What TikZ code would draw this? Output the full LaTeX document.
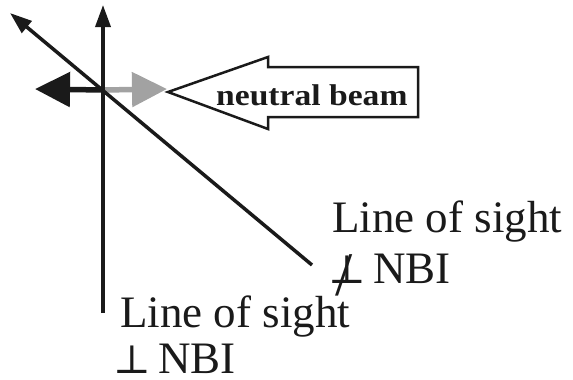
\documentclass[tikz,border=0pt]{standalone}
\usepackage{fontspec}
\setmainfont{Liberation Serif}
\newfontfamily\beamfont[FakeStretch=1.12]{Liberation Serif}
\newfontfamily\perpfont{DejaVu Serif}
\usetikzlibrary{arrows.meta, positioning}
\definecolor{mInk}{HTML}{1A1A1A}
\definecolor{mGrey}{HTML}{A2A2A2}
\newcommand{\perpsym}{{\perpfont\fontsize{40}{40}\selectfont ⊥}}
\newcommand{\notperpsym}{\makebox[0pt][l]{\hspace{7pt}\raisebox{-12pt}{\fontsize{62}{62}\selectfont /}}\perpsym}

\begin{document}
\begin{tikzpicture}[x=1pt, y=-1pt,
  axis/.style={mInk, line width=3.5pt, -{Triangle[length=22pt, width=15pt]}},
  flow/.style={line width=5.5pt, -{Triangle[length=35pt, width=34pt]}},
  sightlabel/.style={anchor=base west, inner sep=0pt, text=mInk,
                     font=\fontsize{45}{45}\selectfont}]
  \useasboundingbox (0,0) rectangle (573,380);
  % line of sight and its normal
  \coordinate (o) at (103,90);
  \coordinate (up) at (103,5);
  \coordinate (down) at (103,313);
  \coordinate (los) at (10,13);
  \coordinate (losend) at (312,265);
  % velocity components along the beam
  \coordinate (left) at (35,89);
  \coordinate (right) at (167,89);
  \draw[flow, mInk] (o) -- (left);
  \draw[flow, mGrey] (o) -- (right);
  \draw[axis] (down) -- (up);
  \draw[axis] (losend) -- (los);
  % neutral beam (block arrow)
  \draw[mInk, line width=2.5pt, line join=miter]
    (168,92) -- (268,57) -- (268,67) -- (418,67) -- (418,117)
    -- (268,117) -- (268,129) -- cycle;
  \node[font=\beamfont\bfseries\fontsize{30}{30}\selectfont, text=mInk,
        anchor=base west, inner sep=0pt] (beam) at (216,105) {neutral beam};
  % labels
  \node[sightlabel] (oblique) at (332,232) {Line of sight};
  \node[sightlabel] (obliquenbi) at (328,283) {\notperpsym\,NBI};
  \node[sightlabel] (normal) at (120,327) {Line of sight};
  \node[sightlabel] (normalnbi) at (113,373) {\perpsym\,NBI};
\end{tikzpicture}
\end{document}
